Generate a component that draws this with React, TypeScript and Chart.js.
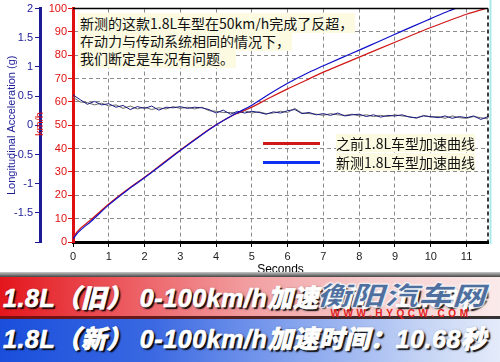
import React, { useEffect, useRef } from 'react';
import { Chart, registerables } from 'chart.js';
Chart.register(...registerables);

// ---- data ----
const oldTime = [0, 0.15, 0.5, 1, 1.5, 2, 2.5, 3, 3.5, 4, 4.5, 5, 5.5, 6, 6.5, 7, 7.5, 8, 8.5, 9, 9.5, 10, 10.5, 11, 11.53];
const oldSpeed = [2, 5, 9.5, 16.3, 22.3, 27.8, 33.6, 39.4, 45.0, 50.2, 54.5, 57.8, 61.8, 65.6, 69.2, 72.8, 76.0, 79.2, 82.4, 85.6, 88.8, 91.9, 94.8, 97.6, 100];
const newTime = [0, 0.15, 0.5, 1, 1.5, 2, 2.5, 3, 3.5, 4, 4.5, 5, 5.5, 6, 6.5, 7, 7.5, 8, 8.5, 9, 9.5, 10, 10.5, 10.68];
const newSpeed = [1.3, 4.2, 8.8, 15.9, 22.0, 27.5, 33.3, 39.2, 44.8, 50.1, 54.6, 58.6, 63.5, 68.0, 72.0, 75.5, 78.9, 82.2, 85.6, 89.0, 92.4, 95.7, 99.0, 100];

const accelTime = [0, 0.2, 0.4, 0.6, 0.8, 1, 1.2, 1.4, 1.6, 1.8, 2, 2.2, 2.4, 2.6, 2.8, 3, 3.2, 3.4, 3.6, 3.8, 4, 4.2, 4.4, 4.6, 4.8, 5, 5.2, 5.4, 5.6, 5.8, 6, 6.2, 6.4, 6.6, 6.8, 7, 7.2, 7.4, 7.6, 7.8, 8, 8.2, 8.4, 8.6, 8.8, 9, 9.2, 9.4, 9.6, 9.8, 10, 10.2, 10.4, 10.6, 10.8, 11, 11.2, 11.4, 11.6];
const accelNavy = [0.52, 0.44, 0.36, 0.41, 0.35, 0.37, 0.31, 0.34, 0.27, 0.32, 0.29, 0.33, 0.26, 0.31, 0.30, 0.32, 0.29, 0.31, 0.30, 0.27, 0.21, 0.26, 0.19, 0.24, 0.21, 0.24, 0.22, 0.19, 0.23, 0.21, 0.25, 0.27, 0.20, 0.22, 0.18, 0.20, 0.17, 0.21, 0.16, 0.18, 0.19, 0.15, 0.18, 0.14, 0.17, 0.16, 0.18, 0.14, 0.13, 0.16, 0.15, 0.13, 0.16, 0.12, 0.15, 0.13, 0.16, 0.10, 0.15];
const accelGray = [0.48, 0.40, 0.39, 0.35, 0.38, 0.33, 0.35, 0.29, 0.33, 0.28, 0.31, 0.27, 0.30, 0.28, 0.32, 0.29, 0.31, 0.28, 0.31, 0.25, 0.24, 0.22, 0.22, 0.20, 0.25, 0.21, 0.23, 0.20, 0.21, 0.24, 0.22, 0.29, 0.21, 0.20, 0.19, 0.17, 0.20, 0.18, 0.17, 0.19, 0.16, 0.18, 0.15, 0.17, 0.15, 0.18, 0.16, 0.15, 0.12, 0.17, 0.14, 0.15, 0.12, 0.16, 0.13, 0.12, 0.15, 0.13, 0.11];

const noteLines = ['新测的这款1.8L车型在50km/h完成了反超，', '在动力与传动系统相同的情况下，', '我们断定是车况有问题。'];
const legendLabels = ['之前1.8L车型加速曲线', '新测1.8L车型加速曲线'];
const legendColors = ['#d01818', '#1030f0'];
const bannerOld = '1.8L（旧） 0-100km/h加速时间：11.53秒';
const bannerNew = '1.8L（新） 0-100km/h加速时间：10.68秒';
const xTitle = 'Seconds';
const yTitle = 'km/h';
const gTitle = 'Longitudinal Acceleration (g)';
const logoText = '衡阳汽车网';
const logoUrl = 'WWW.HYQCW.COM';

const pts = (xs: number[], ys: number[]) => xs.map((x, i) => ({ x, y: ys[i] }));

const framePlugin = {
  id: 'frame',
  afterDatasetsDraw(chart: any) {
    const { ctx, chartArea: a } = chart;
    ctx.save();
    ctx.strokeStyle = '#000';
    ctx.lineWidth = 1.5;
    ctx.beginPath();
    ctx.moveTo(a.left, a.top);
    ctx.lineTo(a.right, a.top);
    ctx.stroke();
    ctx.setLineDash([4, 3]);
    ctx.lineWidth = 1.5;
    ctx.beginPath();
    ctx.moveTo(a.right, a.top);
    ctx.lineTo(a.right, a.bottom);
    ctx.stroke();
    ctx.setLineDash([]);
    ctx.strokeStyle = '#a8eaea';
    ctx.lineWidth = 2;
    ctx.beginPath();
    ctx.moveTo(a.right + 2.5, 0);
    ctx.lineTo(a.right + 2.5, a.bottom + 2);
    ctx.stroke();
    ctx.restore();
  },
};

export default function App() {
  const ref = useRef<HTMLCanvasElement | null>(null);
  useEffect(() => {
    if (!ref.current) return;
    const chart = new Chart(ref.current, {
      type: 'line',
      data: {
        datasets: [
          { data: pts(newTime, newSpeed), yAxisID: 'y', borderColor: '#1010c8', borderWidth: 1.2, pointRadius: 0, cubicInterpolationMode: 'monotone' },
          { data: pts(oldTime, oldSpeed), yAxisID: 'y', borderColor: '#d01818', borderWidth: 1.2, pointRadius: 0, cubicInterpolationMode: 'monotone' },
          { data: pts(accelTime, accelNavy), yAxisID: 'g', borderColor: '#1a1a80', borderWidth: 1, pointRadius: 0, tension: 0 },
          { data: pts(accelTime, accelGray), yAxisID: 'g', borderColor: '#6a6a6a', borderWidth: 1, pointRadius: 0, tension: 0 },
        ],
      } as any,
      options: {
        animation: false,
        responsive: false,
        maintainAspectRatio: false,
        layout: { padding: { top: 7, right: 12, left: 0, bottom: 0 } },
        plugins: { legend: { display: false }, tooltip: { enabled: false } },
        scales: {
          x: {
            type: 'linear', min: 0, max: 11.6, position: 'bottom',
            afterFit: (s: any) => { s.height = 38; },
            ticks: { stepSize: 1, includeBounds: false, autoSkip: false, maxRotation: 0, padding: 3, color: '#222', font: { family: 'Liberation Sans', size: 11 }, callback: (v: any) => String(v) },
            grid: { color: '#8c8c8c', lineWidth: 1, tickLength: 5, tickColor: '#000' },
            border: { color: '#000', width: 3, dash: [4, 3] },
            title: { display: true, text: xTitle, color: '#000', font: { family: 'Liberation Sans', size: 12 }, padding: { top: 0, bottom: 3 } },
          },
          y: {
            type: 'linear', min: 0, max: 100, position: 'left', weight: 0,
            afterFit: (s: any) => { s.width = 33; },
            ticks: { stepSize: 10, includeBounds: false, padding: 1, color: '#e01010', font: { family: 'Liberation Sans', size: 11 } },
            grid: { color: '#8c8c8c', lineWidth: 1, tickLength: 5, tickColor: '#e01010' },
            border: { color: '#e01010', width: 3, dash: [4, 3] },
          },
          g: {
            type: 'linear', min: -2, max: 2, position: 'left', weight: 1,
            afterFit: (s: any) => { s.width = 40; },
            ticks: { stepSize: 0.5, includeBounds: false, padding: 2, color: '#1c1c96', font: { family: 'Liberation Sans', size: 11 }, callback: (v: any) => (v === -2 ? '' : String(v)) },
            grid: { drawOnChartArea: false, tickLength: 5, tickColor: '#1c1c96' },
            border: { color: '#1c1c96', width: 3 },
            title: { display: true, text: gTitle, color: '#1c1c96', font: { family: 'Liberation Sans', size: 11 }, padding: { top: 5, bottom: 0 } },
          },
        },
      } as any,
      plugins: [framePlugin],
    });
    return () => chart.destroy();
  }, []);

  const cjk = "'Noto Sans CJK SC', 'Liberation Sans', sans-serif";
  const bannerText: React.CSSProperties = {
    position: 'absolute', left: 3, whiteSpace: 'nowrap', color: '#fff', fontWeight: 900, fontStyle: 'italic',
    fontSize: 25, letterSpacing: 0.6, fontFamily: "'Liberation Sans', 'Noto Sans CJK SC', sans-serif",
    WebkitTextStroke: '0.7px #fff',
    textShadow: '2px 2px 1px rgba(0,0,0,0.85), 1px 1px 3px rgba(0,0,0,0.6)', lineHeight: '28px',
  };

  return (
    <div style={{ position: 'absolute', left: 0, top: 0, width: 500, height: 362, overflow: 'hidden', background: '#fff' }}>
      <canvas ref={ref} width={500} height={280} style={{ position: 'absolute', left: 0, top: 0, width: 500, height: 280 }} />
      {/* km/h axis title */}
      <div style={{ position: 'absolute', left: 39, top: 124, transform: 'translate(-50%,-50%) rotate(-90deg)', color: '#e01010', fontFamily: 'Liberation Sans', fontSize: 11, whiteSpace: 'nowrap' }}>{yTitle}</div>
      {/* annotation */}
      <div style={{ position: 'absolute', left: 78, top: 15, fontFamily: cjk, fontSize: 14, lineHeight: '17.5px', color: '#111' }}>
        {noteLines.map((l, i) => (
          <div key={i}><span style={{ background: '#fcfbe2', padding: '0 2px' }}>{l}</span></div>
        ))}
      </div>
      {/* legend */}
      {legendLabels.map((l, i) => (
        <React.Fragment key={i}>
          <div style={{ position: 'absolute', left: 263, top: 142 + i * 19, width: 57, height: 3, background: legendColors[i] }} />
          <div style={{ position: 'absolute', left: 336, top: 134 + i * 19, fontFamily: cjk, fontSize: 14, lineHeight: '18px', color: '#111', whiteSpace: 'nowrap', background: '#fcfbe2' }}>{l}</div>
        </React.Fragment>
      ))}
      {/* banners */}
      <div style={{ position: 'absolute', left: 0, top: 272, width: 500, height: 6, background: 'linear-gradient(#c8c8c8,#2a2a2a)' }} />
      <div style={{ position: 'absolute', left: 0, top: 277, width: 500, height: 40, background: 'linear-gradient(to right,#e3161c 0%,#ec5a5f 25%,#f29fa1 50%,#f6cdce 75%,#fbeaea 100%)' }}>
        <div style={{ ...bannerText, top: 7 }}>{bannerOld}</div>
      </div>
      <div style={{ position: 'absolute', left: 0, top: 316, width: 500, height: 3, background: 'linear-gradient(to right,#7a1010,#333)' }} />
      <div style={{ position: 'absolute', left: 0, top: 319, width: 500, height: 43, background: 'linear-gradient(to right,#1a4fdc 0%,#3a68e2 30%,#88a6ee 60%,#c6d5f5 85%,#e4ebfa 100%)' }}>
        <div style={{ ...bannerText, top: 6 }}>{bannerNew}</div>
      </div>
      {/* watermark */}
      <div style={{ position: 'absolute', left: 316, top: 280, width: 170, textAlign: 'center', pointerEvents: 'none' }}>
        <div style={{ fontFamily: cjk, fontWeight: 900, fontStyle: 'italic', fontSize: 26, lineHeight: '28px', color: '#4f6f9e', transform: 'scaleX(1.3)', transformOrigin: 'center', WebkitTextStroke: '0.5px #fff', textShadow: '0 0 2px #fff, 0 0 2px #fff', whiteSpace: 'nowrap' }}>{logoText}</div>
        <div style={{ fontFamily: 'Liberation Sans', fontWeight: 700, fontSize: 10, lineHeight: '10px', color: '#e02020', letterSpacing: 3.6, whiteSpace: 'nowrap', marginTop: 1 }}>{logoUrl}</div>
      </div>
    </div>
  );
}
